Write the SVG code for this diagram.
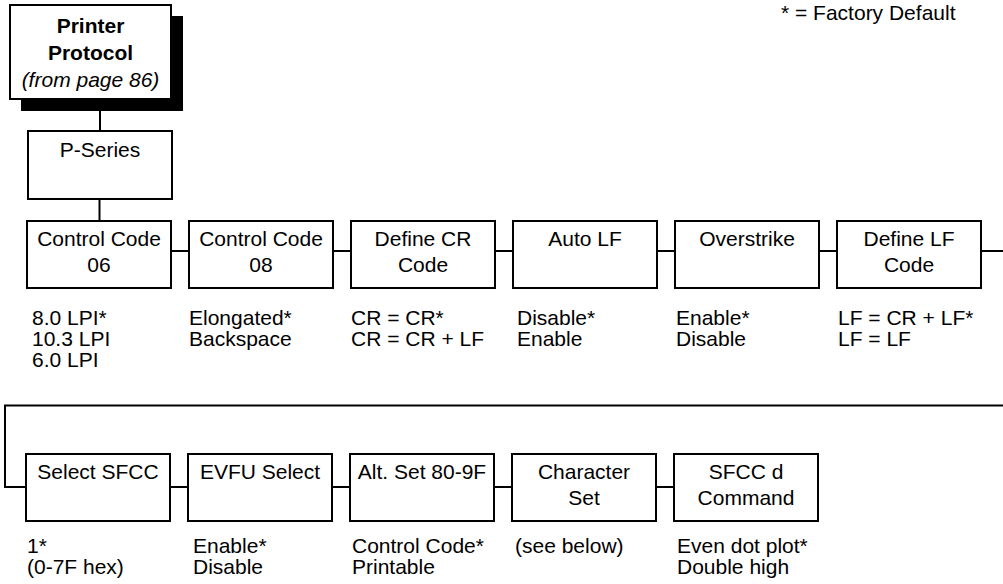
<svg xmlns="http://www.w3.org/2000/svg" width="1003" height="584" viewBox="0 0 1003 584">
<style>
.box{fill:#fff;stroke:#000;stroke-width:2}
.shadow{fill:#000}
.t{font-family:"Liberation Sans",Arial,Helvetica,sans-serif;font-size:21px;fill:#000}
.c{text-anchor:middle}
.b{font-weight:bold}
.i{font-style:italic}
.conn{stroke:#000;stroke-width:2;fill:none}
</style>
<rect width="1003" height="584" fill="#fff"/>
<text class="t" x="781" y="20">* = Factory Default</text>

<g id="connectors">
<line class="conn" x1="100" y1="110" x2="100" y2="131"/>
<line class="conn" x1="99.5" y1="199" x2="99.5" y2="221"/>
<line class="conn" x1="171" y1="251" x2="189" y2="251"/>
<line class="conn" x1="333" y1="251" x2="351" y2="251"/>
<line class="conn" x1="495" y1="251" x2="513" y2="251"/>
<line class="conn" x1="657" y1="251" x2="675" y2="251"/>
<line class="conn" x1="819" y1="251" x2="837" y2="251"/>
<line class="conn" x1="981" y1="251" x2="1003" y2="251"/>
<polyline class="conn" points="1003,405.5 5,405.5 5,487 26,487"/>
<line class="conn" x1="170" y1="487" x2="188" y2="487"/>
<line class="conn" x1="332" y1="487" x2="350" y2="487"/>
<line class="conn" x1="494" y1="487" x2="512" y2="487"/>
<line class="conn" x1="656" y1="487" x2="674" y2="487"/>
</g>

<g id="printer-protocol">
<rect class="shadow" x="21" y="16" width="162" height="95"/>
<rect class="box" x="10" y="5" width="161" height="94"/>
<text class="t c b" x="90.5" y="33">Printer</text>
<text class="t c b" x="90.5" y="60">Protocol</text>
<text class="t c i" x="90.5" y="87">(from page 86)</text>
</g>

<g id="p-series">
<rect class="box" x="28" y="131" width="144" height="68"/>
<text class="t c" x="100" y="157">P-Series</text>
</g>

<g id="control-code-06">
<rect class="box" x="27" y="221" width="144" height="67"/>
<text class="t c" x="99" y="246">Control Code</text>
<text class="t c" x="99" y="272">06</text>
<text class="t" x="32" y="325">8.0 LPI*</text>
<text class="t" x="32" y="346">10.3 LPI</text>
<text class="t" x="32" y="367">6.0 LPI</text>
</g>

<g id="control-code-08">
<rect class="box" x="189" y="221" width="144" height="67"/>
<text class="t c" x="261" y="246">Control Code</text>
<text class="t c" x="261" y="272">08</text>
<text class="t" x="189" y="325">Elongated*</text>
<text class="t" x="189" y="346">Backspace</text>
</g>

<g id="define-cr-code">
<rect class="box" x="351" y="221" width="144" height="67"/>
<text class="t c" x="423" y="246">Define CR</text>
<text class="t c" x="423" y="272">Code</text>
<text class="t" x="351" y="325">CR = CR*</text>
<text class="t" x="351" y="346">CR = CR + LF</text>
</g>

<g id="auto-lf">
<rect class="box" x="513" y="221" width="144" height="67"/>
<text class="t c" x="585" y="246">Auto LF</text>
<text class="t" x="517" y="325">Disable*</text>
<text class="t" x="517" y="346">Enable</text>
</g>

<g id="overstrike">
<rect class="box" x="675" y="221" width="144" height="67"/>
<text class="t c" x="747" y="246">Overstrike</text>
<text class="t" x="676" y="325">Enable*</text>
<text class="t" x="676" y="346">Disable</text>
</g>

<g id="define-lf-code">
<rect class="box" x="837" y="221" width="144" height="67"/>
<text class="t c" x="909" y="246">Define LF</text>
<text class="t c" x="909" y="272">Code</text>
<text class="t" x="838" y="325">LF = CR + LF*</text>
<text class="t" x="838" y="346">LF = LF</text>
</g>

<g id="select-sfcc">
<rect class="box" x="26" y="454" width="144" height="67"/>
<text class="t c" x="98" y="479">Select SFCC</text>
<text class="t" x="27" y="553">1*</text>
<text class="t" x="27" y="574">(0-7F hex)</text>
</g>

<g id="evfu-select">
<rect class="box" x="188" y="454" width="144" height="67"/>
<text class="t c" x="260" y="479">EVFU Select</text>
<text class="t" x="193" y="553">Enable*</text>
<text class="t" x="193" y="574">Disable</text>
</g>

<g id="alt-set">
<rect class="box" x="350" y="454" width="144" height="67"/>
<text class="t c" x="422" y="479">Alt. Set 80-9F</text>
<text class="t" x="352" y="553">Control Code*</text>
<text class="t" x="352" y="574">Printable</text>
</g>

<g id="character-set">
<rect class="box" x="512" y="454" width="144" height="67"/>
<text class="t c" x="584" y="479">Character</text>
<text class="t c" x="584" y="505">Set</text>
<text class="t" x="515" y="553">(see below)</text>
</g>

<g id="sfcc-d-command">
<rect class="box" x="674" y="454" width="144" height="67"/>
<text class="t c" x="746" y="479">SFCC d</text>
<text class="t c" x="746" y="505">Command</text>
<text class="t" x="677" y="553">Even dot plot*</text>
<text class="t" x="677" y="574">Double high</text>
</g>
</svg>
